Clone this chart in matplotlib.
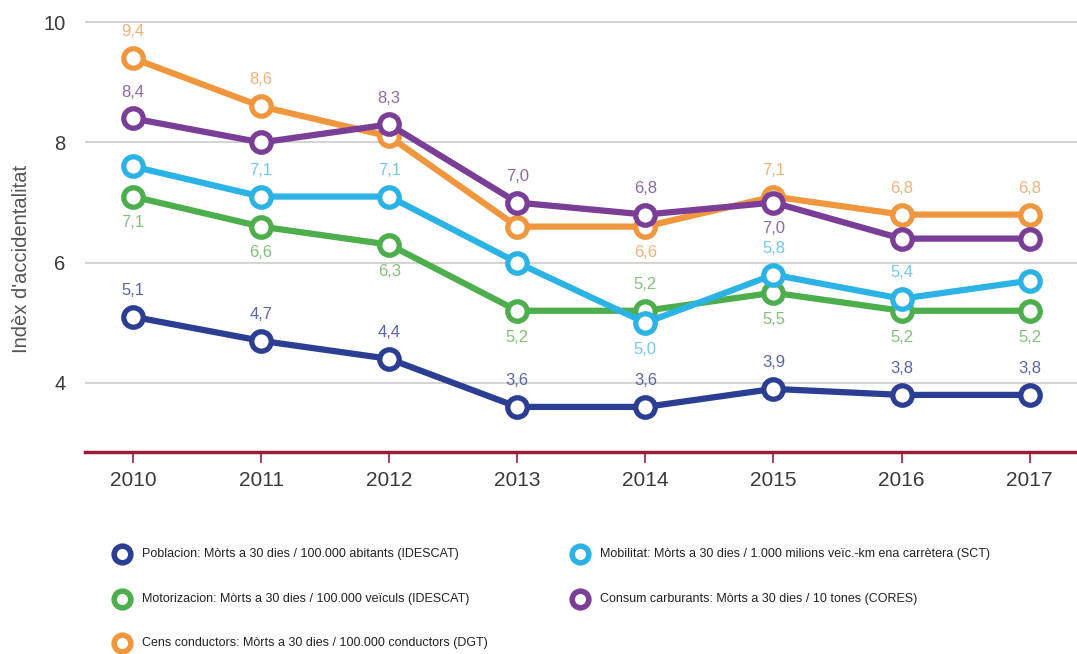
import matplotlib
matplotlib.use("Agg")
import matplotlib.pyplot as plt
from matplotlib.lines import Line2D

years = [2010, 2011, 2012, 2013, 2014, 2015, 2016, 2017]

poblacion = [5.1, 4.7, 4.4, 3.6, 3.6, 3.9, 3.8, 3.8]
motorizacion = [7.1, 6.6, 6.3, 5.2, 5.2, 5.5, 5.2, 5.2]
mobilitat = [7.6, 7.1, 7.1, 6.0, 5.0, 5.8, 5.4, 5.7]
consum = [8.4, 8.0, 8.3, 7.0, 6.8, 7.0, 6.4, 6.4]
cens = [9.4, 8.6, 8.1, 6.6, 6.6, 7.1, 6.8, 6.8]

names = [
    "Poblacion: Mòrts a 30 dies / 100.000 abitants (IDESCAT)",
    "Motorizacion: Mòrts a 30 dies / 100.000 veïculs (IDESCAT)",
    "Cens conductors: Mòrts a 30 dies / 100.000 conductors (DGT)",
    "Mobilitat: Mòrts a 30 dies / 1.000 milions veïc.-km ena carrètera (SCT)",
    "Consum carburants: Mòrts a 30 dies / 10 tones (CORES)",
]

colors = {
    "pob": "#2B3E93",
    "mot": "#4DAE4C",
    "cens": "#F0973D",
    "mob": "#2BB3E5",
    "con": "#7A3E97",
}
label_colors = {
    "pob": "#5A66A6",
    "mot": "#86BE7C",
    "cens": "#F0B27A",
    "mob": "#74C9EA",
    "con": "#8E6AA3",
}

# label placement: 'a' above, 'b' below, None no label
place = {
    "pob": ['a', 'a', 'a', 'a', 'a', 'a', 'a', 'a'],
    "mot": ['b', 'b', 'b', 'b', 'a', 'b', 'b', 'b'],
    "mob": [None, 'a', 'a', None, 'b', 'a', 'a', None],
    "con": ['a', None, 'a', 'a', 'a', 'b', None, None],
    "cens": ['a', 'a', None, None, 'b', 'a', 'a', 'a'],
}

series = [
    ("pob", poblacion),
    ("mot", motorizacion),
    ("mob", mobilitat),
    ("cens", cens),
    ("con", consum),
]

plt.rcParams['font.family'] = ['Liberation Sans', 'DejaVu Sans']

fig = plt.figure(figsize=(10.77, 6.54), dpi=100)
ax = fig.add_axes([85/1077, (654-452)/654, 1 - 85/1077, 452/654])
ax.set_xlim(2009.625, 2017.37)
ax.set_ylim(2.85, 10.37)

for y in [4, 6, 8, 10]:
    ax.axhline(y, color="#CCCCCC", lw=1.2, zorder=0)

for key, vals in series:
    ax.plot(years, vals, color=colors[key], lw=4.5, marker='o', ms=14,
            mfc='white', mec=colors[key], mew=3.8, zorder=3, solid_joinstyle='round')

order_labels = ["pob", "mot", "mob", "con", "cens"]
data_map = dict(series)
for key in order_labels:
    vals = data_map[key]
    for x, v, p in zip(years, vals, place[key]):
        if p is None:
            continue
        txt = f"{v:.1f}".replace('.', ',')
        off = 19 if p == 'a' else -19
        ax.annotate(txt, (x, v), xytext=(0, off), textcoords='offset points',
                    ha='center', va='center', fontsize=12,
                    color=label_colors[key], zorder=5)

for s in ['top', 'right', 'left']:
    ax.spines[s].set_visible(False)
ax.spines['bottom'].set_color('#9B1B3A')
ax.spines['bottom'].set_linewidth(2.5)

ax.set_xticks(years)
ax.set_xticklabels([str(y) for y in years])
ax.set_yticks([4, 6, 8, 10])
ax.set_yticklabels(['4', '6', '8', '10'])
ax.tick_params(axis='x', length=8, width=1.2, color='#9B1B3A', labelsize=15,
               labelcolor='#3A3A3A', pad=6)
ax.tick_params(axis='y', length=0, labelsize=14.5, labelcolor='#3A3A3A', pad=14)
ax.set_ylabel("Indèx d'accidentalitat", fontsize=14.5, color='#555555')
ax.yaxis.set_label_coords(-(85 - 22) / 992, (452 - 259) / 452)
ax.yaxis.label.set_va('center')

# legend
leg_items = [
    (122, 554, "pob", names[0]),
    (122, 599, "mot", names[1]),
    (122, 643, "cens", names[2]),
    (580, 554, "mob", names[3]),
    (580, 599, "con", names[4]),
]
for px, py, key, name in leg_items:
    fx, fy = px/1077, 1 - py/654
    fig.add_artist(Line2D([fx], [fy], marker='o', ms=12, mfc='white',
                          mec=colors[key], mew=4, transform=fig.transFigure))
    fig.text(fx + 20/1077, fy, name, fontsize=9, color='#222222',
             va='center', ha='left')

fig.savefig("out.png", dpi=100)
